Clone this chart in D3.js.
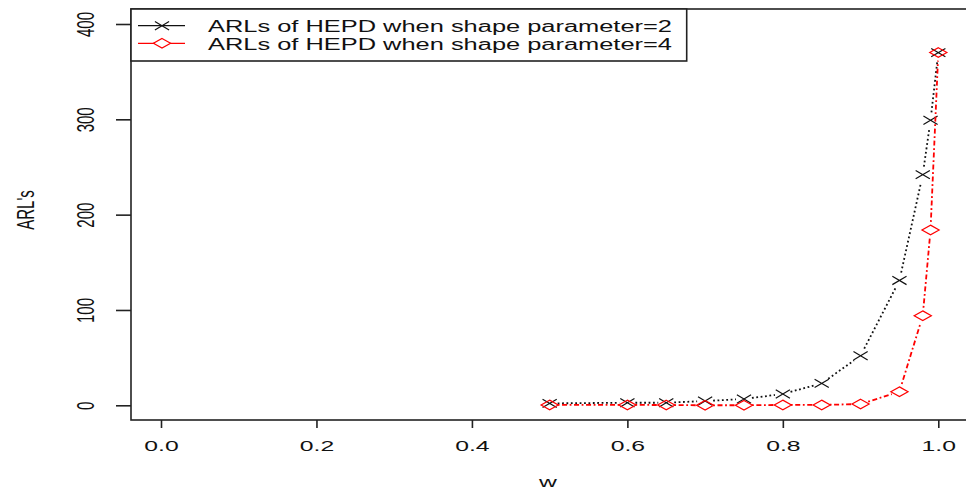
<!DOCTYPE html>
<html>
<head>
<meta charset="utf-8">
<script src="https://cdn.jsdelivr.net/npm/d3@7"></script>
<style>
    body { margin: 0; background: #fff; }
    svg { display: block; font-family: "Liberation Sans", Arial, sans-serif; }
</style>
</head>
<body>
<script>
// values
var wValues = [0.5, 0.6, 0.65, 0.7, 0.75, 0.8, 0.85, 0.9, 0.95, 0.98, 0.99, 1.0];
var arlShape2 = [2, 2.7, 2.7, 4.5, 6.6, 11.9, 23, 52, 131, 242, 299, 370];
var arlShape4 = [0.4, 0.4, 0.3, 0, 0.1, 0.4, 0.4, 1.3, 14.3, 94, 184, 370];
var xTicks = [0, 0.2, 0.4, 0.6, 0.8, 1.0];
var yTicks = [0, 100, 200, 300, 400];
var legendLabels = ["ARLs of HEPD when shape parameter=2", "ARLs of HEPD when shape parameter=4"];

window.onload = (event) => {
    setChart();
};

function setChart() {
    var width = 966,
        height = 492,
        s = 1.65; // the original picture is stretched sideways

    var svg = d3.select("body")
        .append("svg")
        .attr("width", width)
        .attr("height", height);

    var x = d3.scaleLinear().domain([0, 1]).range([161, 938.3]);
    var y = d3.scaleLinear().domain([0, 400]).range([405.3, 24]);

    // plot box
    svg.append("rect")
        .attr("x", 131).attr("y", 9)
        .attr("width", 850).attr("height", 411)
        .attr("fill", "none")
        .attr("stroke", "#222")
        .attr("stroke-width", 1.6);

    // x axis
    var xAxis = svg.append("g")
        .attr("transform", "translate(0,420)")
        .call(d3.axisBottom(x).tickValues(xTicks).tickSize(8).tickFormat(d3.format(".1f")));
    xAxis.select(".domain").remove();
    xAxis.selectAll("line").attr("stroke", "#222").attr("stroke-width", 1.6);
    xAxis.selectAll("text")
        .attr("y", 31.5).attr("dy", 0)
        .attr("fill", "#111")
        .style("font-size", "15px")
        .attr("transform", "scale(" + s + ",1)");

    // y axis
    var yAxis = svg.append("g")
        .attr("transform", "translate(131,0)")
        .call(d3.axisLeft(y).tickValues(yTicks).tickSize(15));
    yAxis.select(".domain").remove();
    yAxis.selectAll("line").attr("stroke", "#222").attr("stroke-width", 1.6);
    yAxis.selectAll("text")
        .attr("x", 0).attr("y", 0).attr("dy", 0)
        .attr("fill", "#111")
        .attr("text-anchor", "middle")
        .style("font-size", "15px")
        .attr("transform", "translate(" + (94.4 - 131) + ",0) scale(" + s + ",1) rotate(-90)");

    // axis titles
    svg.append("text")
        .attr("transform", "translate(548,487) scale(" + s + ",1)")
        .attr("text-anchor", "middle")
        .style("font-size", "15px")
        .attr("fill", "#111")
        .text("w");

    svg.append("text")
        .attr("transform", "translate(34,210) scale(" + s + ",1) rotate(-90)")
        .attr("text-anchor", "middle")
        .style("font-size", "15px")
        .attr("fill", "#111")
        .text("ARL's");

    var crossPath = "M-4.3,-4.2L4.3,4.2M-4.3,4.2L4.3,-4.2";
    var diamondPath = "M0,-4.8L5.2,0L0,4.8L-5.2,0Z";

    var series = [
        { values: arlShape2, color: "#111", dash: "1.8,2.6", marker: crossPath },
        { values: arlShape4, color: "#ff0000", dash: "1.8,2.6,5,2.6", marker: diamondPath }
    ];

    // lines with gaps around the points (type = "b")
    var gap = 8;
    series.forEach(function(ser) {
        var pts = wValues.map(function(w, i) { return [x(w), y(ser.values[i])]; });
        var segs = [];
        for (var i = 0; i < pts.length - 1; i++) {
            var dx = pts[i + 1][0] - pts[i][0],
                dy = pts[i + 1][1] - pts[i][1],
                len = Math.sqrt(dx * dx + dy * dy);
            if (len > 2 * gap) {
                var ux = dx / len, uy = dy / len;
                segs.push([[pts[i][0] + ux * gap, pts[i][1] + uy * gap],
                           [pts[i + 1][0] - ux * gap, pts[i + 1][1] - uy * gap]]);
            }
        }
        svg.append("g").selectAll("path")
            .data(segs)
            .enter()
            .append("path")
            .attr("d", d3.line())
            .attr("fill", "none")
            .attr("stroke", ser.color)
            .attr("stroke-width", 1.8)
            .attr("stroke-dasharray", ser.dash);

        svg.append("g").selectAll("path")
            .data(pts)
            .enter()
            .append("path")
            .attr("d", ser.marker)
            .attr("transform", function(d) { return "translate(" + d[0] + "," + d[1] + ") scale(" + s + ",1)"; })
            .attr("fill", "none")
            .attr("stroke", ser.color)
            .attr("stroke-width", 1.2)
            .attr("vector-effect", "non-scaling-stroke");
    });

    // legend
    var legend = svg.append("g");
    legend.append("rect")
        .attr("x", 131).attr("y", 9)
        .attr("width", 555.7).attr("height", 52)
        .attr("fill", "#fff")
        .attr("stroke", "#222")
        .attr("stroke-width", 1.6);

    var rows = legend.selectAll(".row")
        .data(series)
        .enter()
        .append("g")
        .attr("class", "row")
        .attr("transform", function(d, i) { return "translate(0," + (25.7 + i * 17.6) + ")"; });

    rows.append("line")
        .attr("x1", 138).attr("x2", 185)
        .attr("stroke", function(d) { return d.color; })
        .attr("stroke-width", 1.2);
    rows.append("path")
        .attr("d", function(d) { return d.marker; })
        .attr("transform", "translate(162,0) scale(" + s + ",1)")
        .attr("fill", "#fff")
        .attr("stroke", function(d) { return d.color; })
        .attr("stroke-width", 1.2)
        .attr("vector-effect", "non-scaling-stroke");
    rows.append("text")
        .attr("transform", "translate(208,6.5) scale(" + s + ",1)")
        .style("font-size", "15.6px")
        .attr("textLength", 464 / s)
        .attr("lengthAdjust", "spacingAndGlyphs")
        .attr("fill", "#111")
        .text(function(d, i) { return legendLabels[i]; });
}
</script>
</body>
</html>
